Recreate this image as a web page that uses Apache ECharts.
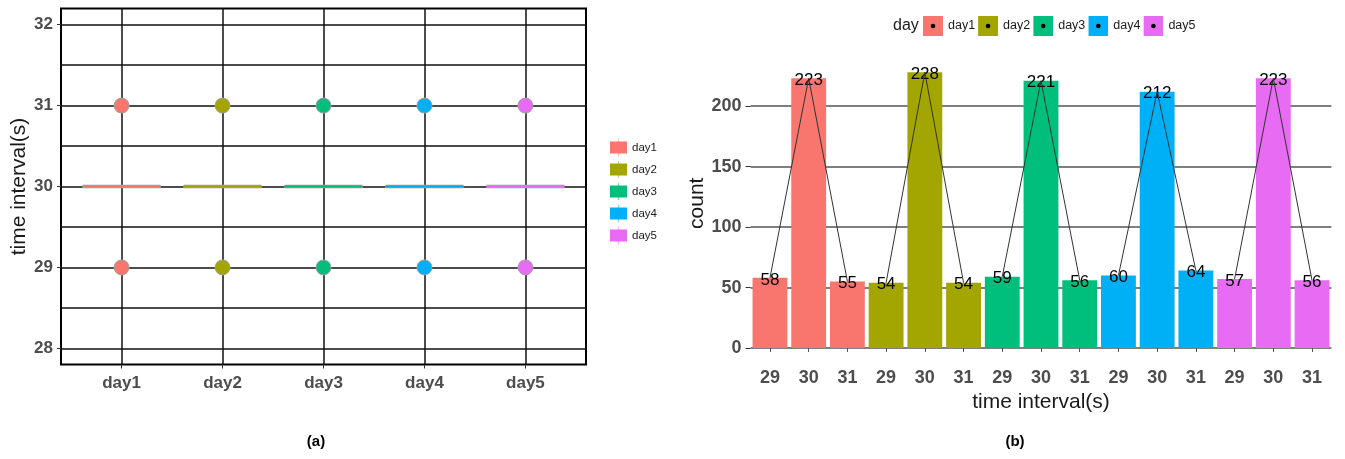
<!DOCTYPE html>
<html>
<head>
<meta charset="utf-8">
<script src="https://cdn.jsdelivr.net/npm/echarts@6/dist/echarts.min.js"></script>
<style>
  html, body { margin: 0; padding: 0; background: #fff; }
  #chart { width: 1345px; height: 459px; }
</style>
</head>
<body>
<div id="chart"></div>
<script>
// ---- data ----
const days = ['day1', 'day2', 'day3', 'day4', 'day5'];
const intervals = ['29', '30', '31'];

// panel (a): spread of observed time intervals per day
const intervalTicks = [28, 29, 30, 31, 32];
const intervalGrid = [28, 28.5, 29, 29.5, 30, 30.5, 31, 31.5, 32];
const medianInterval = [30, 30, 30, 30, 30];
const outlierIntervals = [[29, 31], [29, 31], [29, 31], [29, 31], [29, 31]];

// panel (b): count of each interval per day
const countsDay1 = [58, 223, 55];
const countsDay2 = [54, 228, 54];
const countsDay3 = [59, 221, 56];
const countsDay4 = [60, 212, 64];
const countsDay5 = [57, 223, 56];
const countTicks = [0, 50, 100, 150, 200];

// ---- styling ----
const dayColors = ['#F8766D', '#A3A500', '#00BF7D', '#00B0F6', '#E76BF3'];
const counts = [countsDay1, countsDay2, countsDay3, countsDay4, countsDay5];
const FONT = '"Liberation Sans", Arial, sans-serif';
const categories = [];
days.forEach(d => intervals.forEach(iv => categories.push(d + '|' + iv)));

function svgIcon(svg) {
  return 'image://data:image/svg+xml;charset=utf-8,' + encodeURIComponent(svg);
}
function boxKey(c) {
  return svgIcon('<svg xmlns="http://www.w3.org/2000/svg" width="17" height="17">' +
    '<line x1="8.5" y1="0" x2="8.5" y2="17" stroke="' + c + '" stroke-opacity="0.55" stroke-width="1"/>' +
    '<rect x="0" y="2.5" width="17" height="12" fill="' + c + '"/></svg>');
}
function dotKey(c) {
  return svgIcon('<svg xmlns="http://www.w3.org/2000/svg" width="20" height="20">' +
    '<rect x="0" y="0" width="20" height="20" fill="' + c + '"/>' +
    '<circle cx="10" cy="10" r="2.3" fill="#000"/></svg>');
}

const series = [];

// panel (a) grid lines, drawn beneath the marks
series.push({
  name: 'gridA', type: 'line', xAxisIndex: 0, yAxisIndex: 0, data: [], z: 1,
  silent: true,
  markLine: {
    z: 1, silent: true, symbol: 'none', animation: false,
    label: { show: false },
    lineStyle: { color: '#111', width: 1.5, type: 'solid' },
    emphasis: { disabled: true },
    data: intervalGrid.map(v => ({ yAxis: v }))
      .concat(days.map((d, i) => ({ xAxis: i + 1 })))
  }
});

days.forEach((d, i) => {
  // collapsed box: median bar
  series.push({
    name: d, type: 'custom', xAxisIndex: 0, yAxisIndex: 0, z: 6,
    itemStyle: { color: dayColors[i] },
    data: [[i + 1, medianInterval[i]]],
    renderItem: (params, api) => {
      const c = api.coord([api.value(0), api.value(1)]);
      const w = api.size([0.77, 0])[0];
      return {
        type: 'rect',
        shape: { x: c[0] - w / 2, y: c[1] - 1.5, width: w, height: 3 },
        style: { fill: dayColors[i], stroke: '#a8a8a8', lineWidth: 0.6 }
      };
    }
  });
  // outlying intervals
  series.push({
    name: d, type: 'scatter', xAxisIndex: 0, yAxisIndex: 0, z: 7,
    symbolSize: 15,
    itemStyle: { color: dayColors[i], borderColor: '#a0a0a0', borderWidth: 1, opacity: 1 },
    data: outlierIntervals[i].map(v => [i + 1, v])
  });
  // bars of counts
  const barData = categories.map(() => '-');
  const lineData = categories.map(() => '-');
  counts[i].forEach((v, k) => { barData[i * 3 + k] = v; lineData[i * 3 + k] = v; });
  series.push({
    name: d, type: 'bar', xAxisIndex: 1, yAxisIndex: 1, stack: 'counts', z: 2,
    barCategoryGap: '10%',
    itemStyle: { color: dayColors[i] },
    label: {
      show: true, position: 'top', distance: 0, offset: [0, 10.5],
      color: '#000', fontSize: 17, fontFamily: FONT,
      formatter: p => p.value
    },
    data: barData
  });
  // connecting line per day
  series.push({
    name: d, type: 'line', xAxisIndex: 1, yAxisIndex: 1, z: 3,
    symbol: 'none', connectNulls: false,
    itemStyle: { color: dayColors[i] },
    lineStyle: { color: '#333', width: 1 },
    data: lineData
  });
});

const option = {
  animation: false,
  textStyle: { fontFamily: FONT },
  title: [
    { text: '(a)', left: 316, top: 434, padding: 0, textAlign: 'center',
      textStyle: { fontSize: 15, fontWeight: 'bold', color: '#000', fontFamily: FONT } },
    { text: '(b)', left: 1015, top: 434, padding: 0, textAlign: 'center',
      textStyle: { fontSize: 15, fontWeight: 'bold', color: '#000', fontFamily: FONT } },
    { text: 'day', left: 893, top: 18, padding: 0,
      textStyle: { fontSize: 16, fontWeight: 'normal', color: '#1a1a1a', fontFamily: FONT } }
  ],
  legend: [
    {
      orient: 'vertical', left: 610, top: 139, padding: 0,
      itemWidth: 17, itemHeight: 17, itemGap: 5, selectedMode: false,
      textStyle: { fontSize: 11.5, color: '#1a1a1a', fontFamily: FONT },
      data: days.map((d, i) => ({ name: d, icon: boxKey(dayColors[i]) }))
    },
    {
      orient: 'horizontal', left: 923, top: 16, padding: 0,
      itemWidth: 20, itemHeight: 20, itemGap: 3, selectedMode: false,
      textStyle: { fontSize: 12.5, color: '#1a1a1a', fontFamily: FONT },
      data: days.map((d, i) => ({ name: d, icon: dotKey(dayColors[i]) }))
    }
  ],
  grid: [
    { left: 61, top: 8.5, width: 525, height: 356, show: true,
      borderColor: '#000', borderWidth: 2, backgroundColor: 'transparent' },
    { left: 750.6, right: 13.6, top: 58.5, bottom: 111 }
  ],
  xAxis: [
    {
      type: 'value', gridIndex: 0, min: 0.4, max: 5.6,
      axisLine: { show: false }, splitLine: { show: false },
      axisTick: { show: true, customValues: [1, 2, 3, 4, 5], length: 4,
        lineStyle: { color: '#333', width: 1 } },
      axisLabel: {
        customValues: [1, 2, 3, 4, 5], margin: 10,
        formatter: v => days[Math.round(v) - 1],
        fontSize: 17, fontWeight: 'bold', color: '#4d4d4d', fontFamily: FONT
      }
    },
    {
      type: 'category', gridIndex: 1, data: categories, offset: 12,
      axisLine: { show: false },
      axisTick: { show: true, alignWithLabel: true, length: 4,
        lineStyle: { color: '#555', width: 1 } },
      axisLabel: {
        interval: 0, margin: 9,
        formatter: v => v.split('|')[1],
        fontSize: 18, fontWeight: 'bold', color: '#4d4d4d', fontFamily: FONT
      },
      name: 'time interval(s)', nameLocation: 'middle', nameGap: 26,
      nameTextStyle: { fontSize: 21, color: '#1a1a1a', fontFamily: FONT }
    }
  ],
  yAxis: [
    {
      type: 'value', gridIndex: 0, min: 27.8, max: 32.2,
      axisLine: { show: false }, splitLine: { show: false },
      axisTick: { show: true, customValues: intervalTicks, length: 4,
        lineStyle: { color: '#333', width: 1 } },
      axisLabel: {
        customValues: intervalTicks, margin: 8,
        fontSize: 17, fontWeight: 'bold', color: '#4d4d4d', fontFamily: FONT
      },
      name: 'time interval(s)', nameLocation: 'middle', nameGap: 31,
      nameTextStyle: { fontSize: 21, color: '#1a1a1a', fontFamily: FONT }
    },
    {
      type: 'value', gridIndex: 1, min: 0, max: 239.4, interval: 50,
      axisLine: { show: false },
      splitLine: { show: true,
        lineStyle: { color: '#555', width: 1.5 } },
      axisTick: { show: true, customValues: countTicks, length: 5,
        lineStyle: { color: '#333', width: 1 } },
      axisLabel: {
        customValues: countTicks, margin: 9,
        fontSize: 18, fontWeight: 'bold', color: '#4d4d4d', fontFamily: FONT
      },
      name: 'count', nameLocation: 'middle', nameGap: 43,
      nameTextStyle: { fontSize: 21, color: '#1a1a1a', fontFamily: FONT }
    }
  ],
  series: series
};

const chart = echarts.init(document.getElementById('chart'), null, { renderer: 'canvas' });
chart.setOption(option);
</script>
</body>
</html>
